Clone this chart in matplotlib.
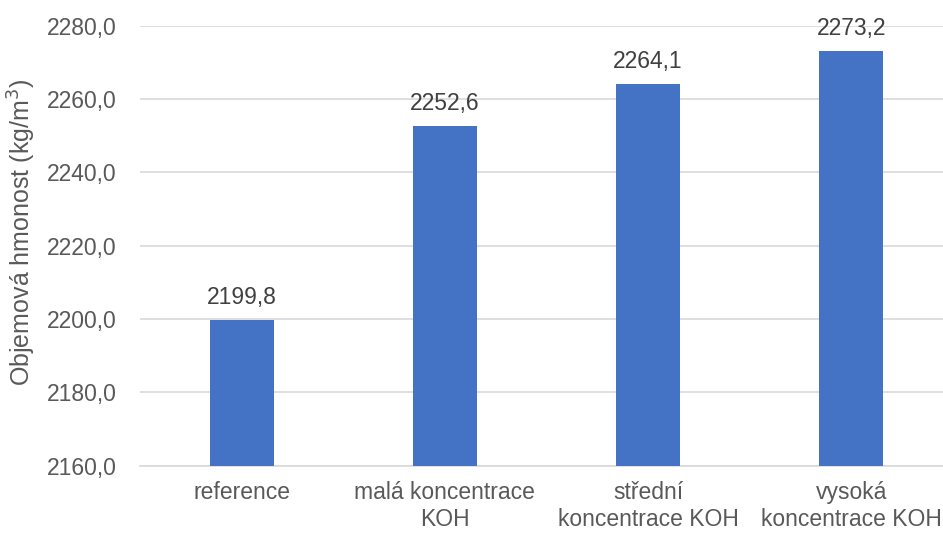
import matplotlib.pyplot as plt
from matplotlib.ticker import FuncFormatter

# data
categories = ["reference", "malá koncentrace\nKOH", "střední\nkoncentrace KOH", "vysoká\nkoncentrace KOH"]
values = [2199.8, 2252.6, 2264.1, 2273.2]
y_ticks = [2160, 2180, 2200, 2220, 2240, 2260, 2280]

text_col = "#595959"
plt.rcParams["font.family"] = ["Liberation Sans", "DejaVu Sans"]

fig = plt.figure(figsize=(9.43, 5.33), dpi=100)
ax = fig.add_axes([0.1485, 0.1263, 0.862, 0.8255])

x = range(len(categories))
bars = ax.bar(x, values, width=0.315, color="#4472C4", zorder=3)

ax.set_ylim(2160, 2280)
ax.set_xlim(-0.5, len(categories) - 0.5)
ax.set_yticks(y_ticks)
ax.yaxis.set_major_formatter(FuncFormatter(lambda v, p: f"{v:.1f}".replace(".", ",")))
ax.set_xticks(list(x))
ax.set_xticklabels(categories)

ax.grid(axis="y", color="#D9D9D9", linewidth=1.2, zorder=0)
for s in ["top", "right", "left"]:
    ax.spines[s].set_visible(False)
ax.spines["bottom"].set_color("#D9D9D9")
ax.spines["bottom"].set_linewidth(1.2)

ax.tick_params(axis="y", length=0, pad=17, labelsize=16.5, labelcolor=text_col)
ax.tick_params(axis="x", length=0, pad=11, labelsize=16.5, labelcolor=text_col)

for b, v in zip(bars, values):
    ax.annotate(f"{v:.1f}".replace(".", ","), (b.get_x() + b.get_width() / 2, v),
                xytext=(0, 8), textcoords="offset points", ha="center", va="bottom",
                fontsize=16.5, color="#404040")

ax.set_ylabel("Objemová hmonost (kg/m$^3$)", fontsize=18, color=text_col)
ax.yaxis.set_label_coords(-0.125, 0.53)

fig.savefig("out.png", dpi=100)
